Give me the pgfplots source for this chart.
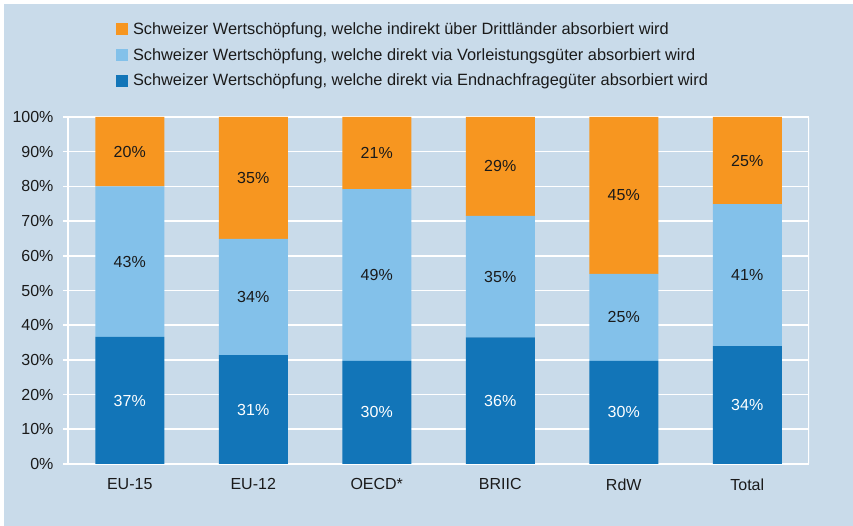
\documentclass[border=0pt]{standalone}
\usepackage{pgfplots}
\usepackage{pgfplotstable}
\pgfplotsset{compat=1.18}
\usepackage{fontspec}
\setmainfont{Liberation Sans}
\definecolor{bgblue}{RGB}{201,219,234}
\definecolor{darkb}{RGB}{18,117,184}
\definecolor{lightb}{RGB}{131,193,234}
\definecolor{orng}{RGB}{247,150,32}
\definecolor{txt}{RGB}{26,26,26}
\pgfplotstableread{
x d l o dm lm om dl ll ol
0 36.6 43.4 20.0 18.30 58.30 90.00 37 43 20
1 31.4 33.5 35.1 15.70 48.15 82.45 31 34 35
2 29.7 49.5 20.8 14.85 54.45 89.60 30 49 21
3 36.5 35.0 28.5 18.25 54.00 85.75 36 35 29
4 29.7 25.1 45.2 14.85 42.25 77.40 30 25 45
5 34.0 40.9 25.1 17.00 54.45 87.45 34 41 25
}\datatable
\begin{document}
\begin{tikzpicture}[font=\fontsize{16}{19}\selectfont]
\useasboundingbox (0,0) rectangle (853pt,526pt);
\fill[white] (0,0) rectangle (853pt,526pt);
\fill[bgblue] (4pt,0) rectangle (853pt,522pt);
\pgfplotsset{
  common/.style={
    scale only axis, width=741pt, height=347pt,
    at={(68pt,62pt)}, anchor=south west,
    xmin=-0.5, xmax=5.5, ymin=0, ymax=100,
  }
}
\begin{axis}[common,
  ybar stacked, bar width=69pt,
  axis line style={white, line width=1.6pt},
  axis x line*=bottom, axis y line*=left,
  ytick={0,10,...,100},
  yticklabels={0\%,10\%,20\%,30\%,40\%,50\%,60\%,70\%,80\%,90\%,100\%},
  ymajorgrids, major grid style={white, line width=1.6pt},
  xtick={0,1,2,3,4,5},
  xticklabels={EU-15,EU-12,OECD*,BRIIC,RdW,Total},
  major x tick style={draw=none},
  extra x ticks={-0.5,0.5,1.5,2.5,3.5,4.5,5.5},
  extra x tick labels={},
  extra x tick style={grid=none, major tick length=5pt, tick style={white, line width=1.6pt}},
  tick align=outside,
  major tick length=5pt,
  ytick style={white, line width=1.6pt},
  tick label style={text=txt},
  xticklabel style={yshift=-6pt},
  yticklabel style={xshift=-6pt},
  reverse legend,
  legend style={draw=none, fill=none, at={(axis description cs:0.0648,1.272)}, anchor=north west,
    inner sep=0pt, outer sep=0pt, row sep=12.3pt, column sep=5pt, text=txt,
    font=\fontsize{16.35}{19}\selectfont,
    nodes={inner sep=0pt, outer sep=0pt}},
  legend cell align=left,
  legend image code/.code={\fill[#1] (0pt,-6pt) rectangle (12pt,6pt);},
]
\addplot[fill=darkb, draw=none] table[x=x, y=d] {\datatable};
\addlegendentry{Schweizer Wertschöpfung, welche direkt via Endnachfragegüter absorbiert wird}
\addplot[fill=lightb, draw=none] table[x=x, y=l] {\datatable};
\addlegendentry{Schweizer Wertschöpfung, welche direkt via Vorleistungsgüter absorbiert wird}
\addplot[fill=orng, draw=none] table[x=x, y=o] {\datatable};
\addlegendentry{Schweizer Wertschöpfung, welche indirekt über Drittländer absorbiert wird}
\draw[white, line width=1.6pt] (axis cs:5.5,0) -- (axis cs:5.5,100);
\end{axis}
\begin{axis}[common, hide axis]
\addplot[draw=none, mark=none, nodes near coords={\pgfplotspointmeta\%}, point meta=explicit symbolic,
  every node near coord/.style={anchor=center, text=white}]
  table[x=x, y=dm, meta=dl] {\datatable};
\addplot[draw=none, mark=none, nodes near coords={\pgfplotspointmeta\%}, point meta=explicit symbolic,
  every node near coord/.style={anchor=center, text=txt}]
  table[x=x, y=lm, meta=ll] {\datatable};
\addplot[draw=none, mark=none, nodes near coords={\pgfplotspointmeta\%}, point meta=explicit symbolic,
  every node near coord/.style={anchor=center, text=txt}]
  table[x=x, y=om, meta=ol] {\datatable};
\end{axis}
\end{tikzpicture}
\end{document}
